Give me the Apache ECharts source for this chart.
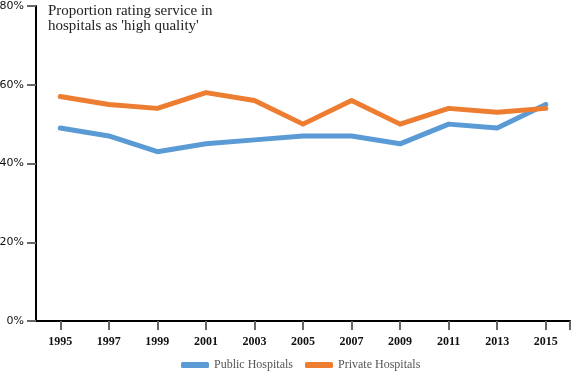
<!DOCTYPE html>
<html><head><meta charset="utf-8">
<script src="https://cdn.jsdelivr.net/npm/echarts@6/dist/echarts.min.js"></script>
<style>html,body{margin:0;padding:0;background:#fff}#c{width:571px;height:371px}</style>
</head><body><div id="c"></div>
<script>
var years = ['1995','1997','1999','2001','2003','2005','2007','2009','2011','2013','2015'];
var publicHospitals = [49,47,43,45,46,47,47,45,50,49,55];
var privateHospitals = [57,55,54,58,56,50,56,50,54,53,54];
var yTicks = [0,20,40,60,80];
var chart = echarts.init(document.getElementById('c'));
var tickStyle = {color:'#666',width:2};
chart.setOption({
  animation:false,
  title:{text:"Proportion rating service in\nhospitals as 'high quality'",left:43,top:-1,
    textStyle:{fontFamily:'Liberation Serif',fontSize:15,fontWeight:'normal',color:'#222',lineHeight:15}},
  grid:{left:36,right:1,top:6,bottom:50,outerBoundsMode:'none',containLabel:false},
  legend:{top:354,left:176,itemWidth:28,itemHeight:6,itemGap:12,icon:'roundRect',
    textStyle:{fontFamily:'Liberation Serif',fontSize:12,color:'#555'},
    data:['Public Hospitals','Private Hospitals']},
  xAxis:[{type:'category',data:years,boundaryGap:true,
    axisLine:{lineStyle:{color:'#000',width:2}},
    axisTick:{show:true,alignWithLabel:true,length:9,lineStyle:tickStyle},
    axisLabel:{margin:15,fontFamily:'Liberation Serif',fontSize:12,fontWeight:'bold',color:'#111'}},
    {type:'value',min:0,max:1,interval:1,position:'bottom',
    axisLine:{show:false},splitLine:{show:false},axisLabel:{show:false},
    axisTick:{show:true,customValues:[1],length:9,lineStyle:tickStyle}}],
  yAxis:{type:'value',min:0,max:80,interval:20,
    axisLine:{show:true,lineStyle:{color:'#000',width:2}},
    axisTick:{show:true,length:9,lineStyle:tickStyle},
    splitLine:{show:false},
    axisLabel:{margin:12,fontFamily:'DejaVu Sans',fontSize:11,color:'#111',formatter:function(v){return yTicks.indexOf(v)>=0?v+'%':'';}}},
  series:[
    {name:'Public Hospitals',type:'line',data:publicHospitals,showSymbol:false,symbol:'none',
      lineStyle:{color:'#5b9bd5',width:5,cap:'round',join:'round'},itemStyle:{color:'#5b9bd5'}},
    {name:'Private Hospitals',type:'line',data:privateHospitals,showSymbol:false,symbol:'none',
      lineStyle:{color:'#ed7d31',width:5,cap:'round',join:'round'},itemStyle:{color:'#ed7d31'}}
  ]
});
</script></body></html>
